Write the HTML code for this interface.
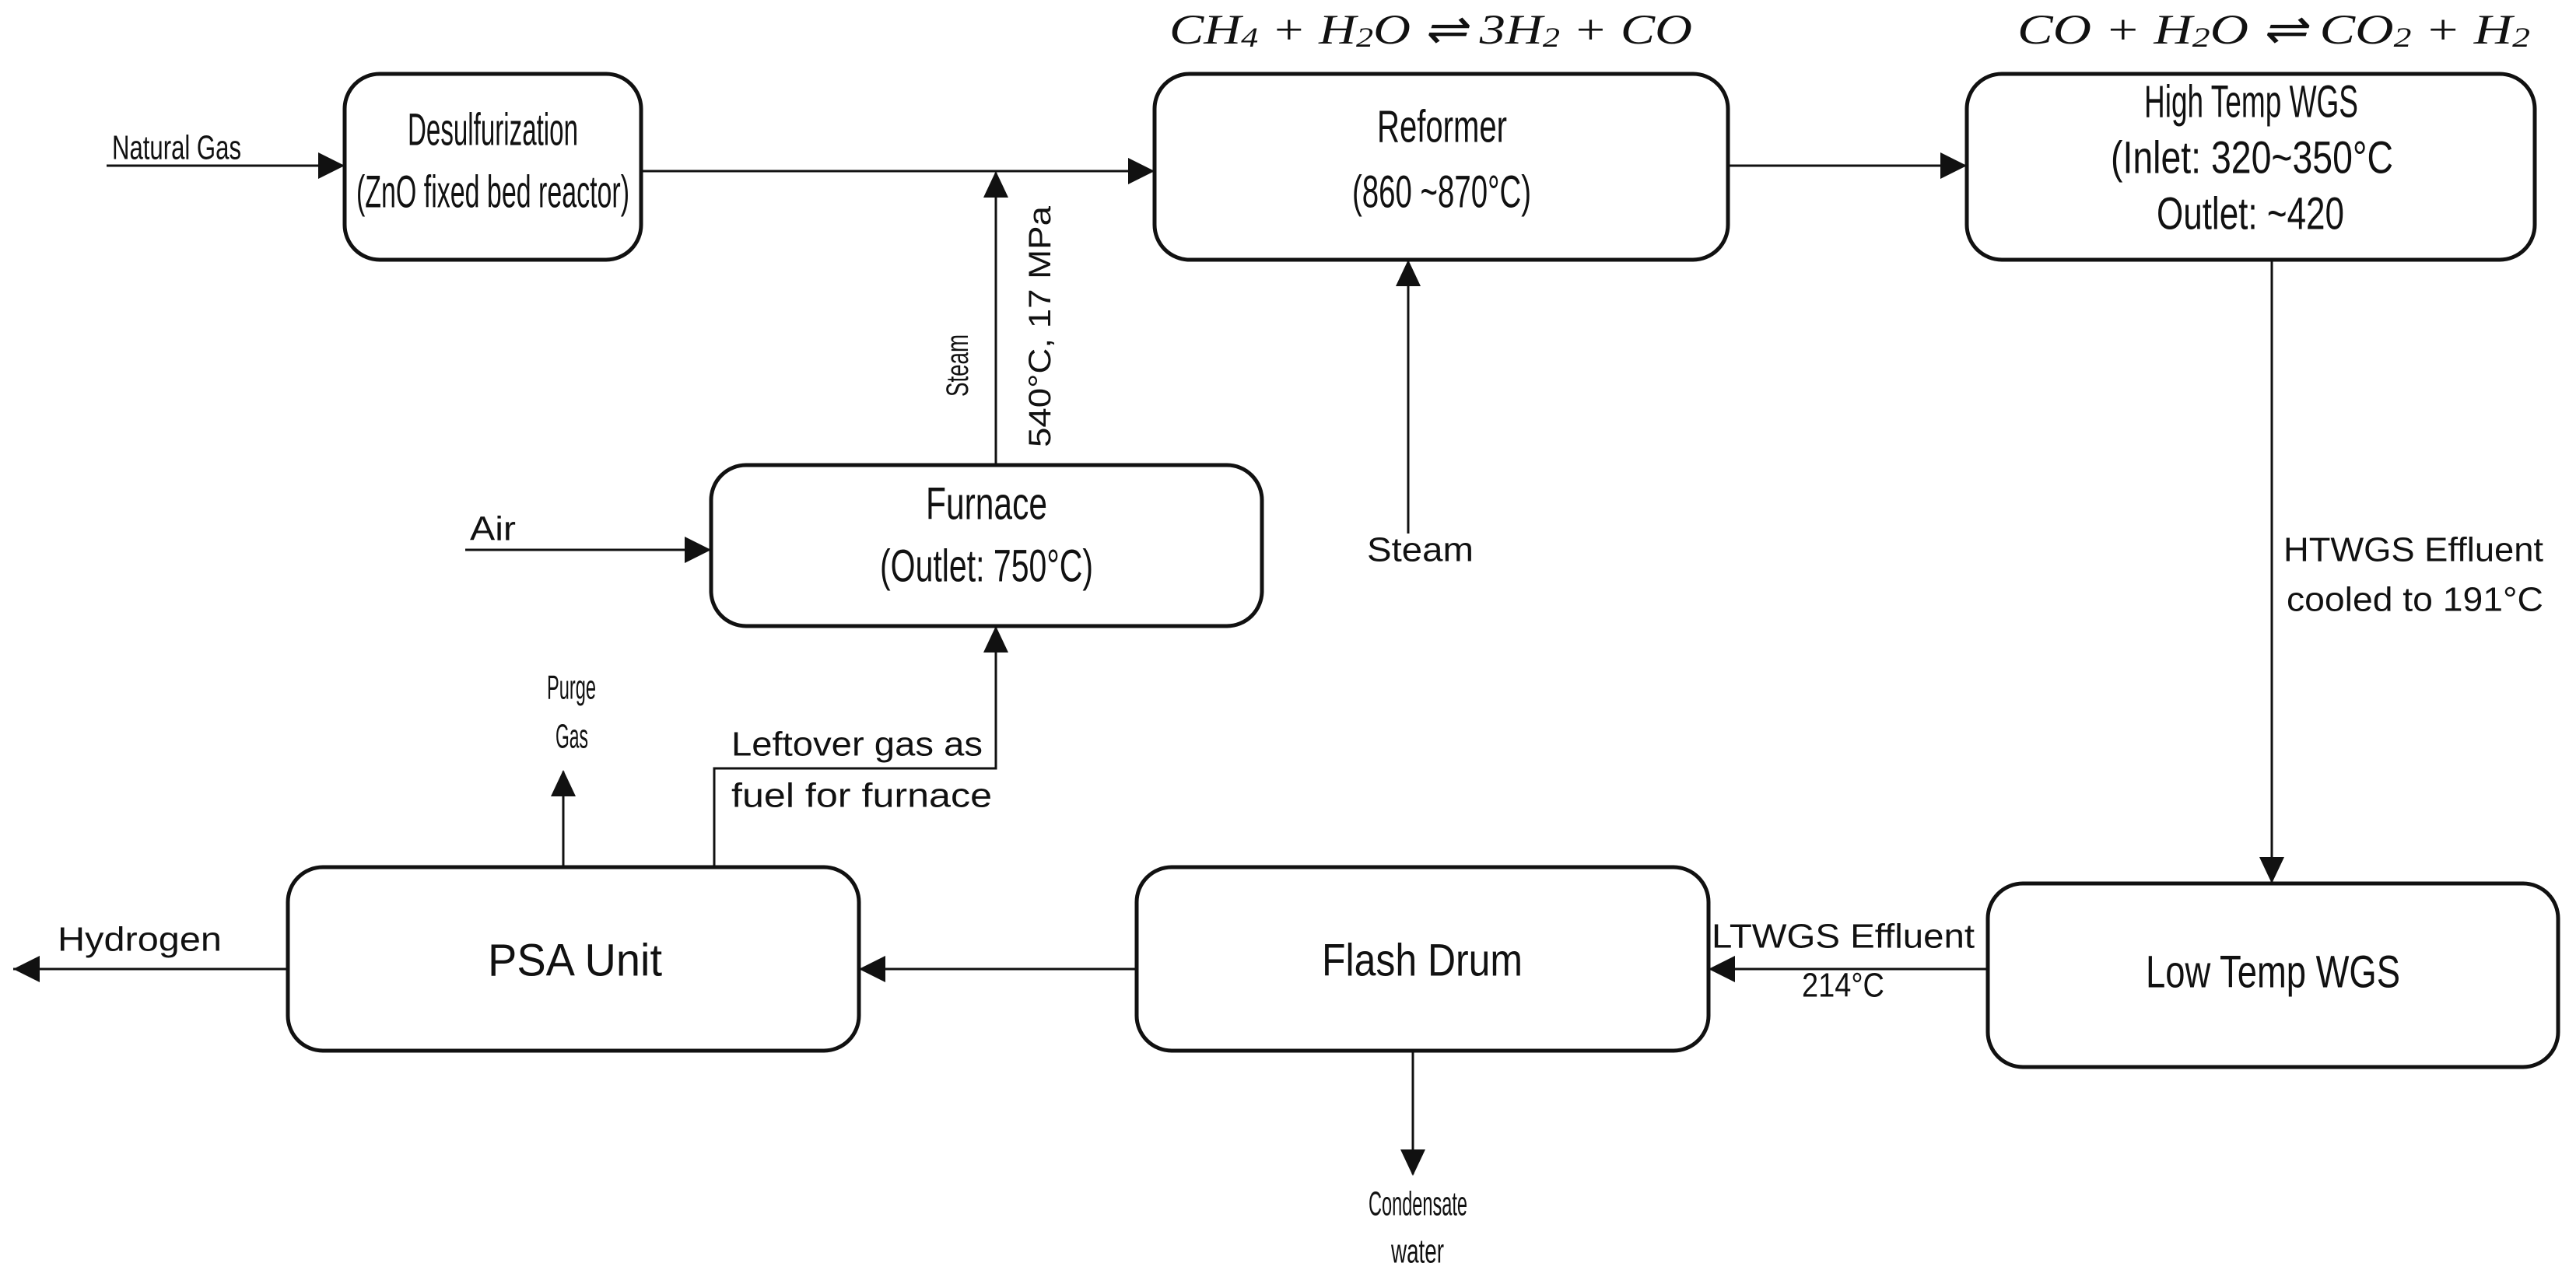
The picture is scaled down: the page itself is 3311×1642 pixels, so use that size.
<!DOCTYPE html>
<html><head><meta charset="utf-8"><style>
html,body{margin:0;padding:0;background:#fff;}
svg{display:block;}
text{font-family:"Liberation Sans",sans-serif;fill:#111;dominant-baseline:central;}
.b{font-size:58px;}
.l{font-size:44px;}
.eq{font-family:"Liberation Serif",serif;font-style:italic;font-size:54px;}
</style></head><body>
<svg width="3311" height="1642" viewBox="0 0 3311 1642" xmlns="http://www.w3.org/2000/svg">
<g fill="none" stroke="#111" stroke-width="5">
<rect x="443" y="95" width="381" height="239" rx="45"/>
<rect x="1484" y="95" width="737" height="239" rx="45"/>
<rect x="2528" y="95" width="730" height="239" rx="45"/>
<rect x="914" y="598" width="708" height="207" rx="45"/>
<rect x="2555" y="1136" width="733" height="236" rx="45"/>
<rect x="1461" y="1115" width="735" height="236" rx="45"/>
<rect x="370" y="1115" width="734" height="236" rx="45"/>
</g>
<g fill="none" stroke="#111" stroke-width="3">
<line x1="137" y1="213" x2="443" y2="213"/>
<line x1="824" y1="220" x2="1484" y2="220"/>
<line x1="1280" y1="598" x2="1280" y2="222"/>
<line x1="2221" y1="213" x2="2528" y2="213"/>
<line x1="598" y1="707" x2="914" y2="707"/>
<line x1="1810" y1="686" x2="1810" y2="336"/>
<line x1="2920" y1="334" x2="2920" y2="1136"/>
<line x1="2555" y1="1246" x2="2196" y2="1246"/>
<line x1="1816" y1="1351" x2="1816" y2="1510"/>
<line x1="1461" y1="1246" x2="1104" y2="1246"/>
<line x1="370" y1="1246" x2="17" y2="1246"/>
<line x1="724" y1="1115" x2="724" y2="992"/>
<polyline points="918,1115 918,988 1280,988 1280,805"/>
</g>
<g fill="#111">
<path d="M443,213 l-34,-17 v34 z"/>
<path d="M1484,220 l-34,-17 v34 z"/>
<path d="M1280,220 l-16,34 h32 z"/>
<path d="M2528,213 l-34,-17 v34 z"/>
<path d="M914,707 l-34,-17 v34 z"/>
<path d="M1810,334 l-16,34 h32 z"/>
<path d="M2920,1136 l-16,-34 h32 z"/>
<path d="M2196,1246 l34,-17 v34 z"/>
<path d="M1816,1512 l-16,-34 h32 z"/>
<path d="M1104,1246 l34,-17 v34 z"/>
<path d="M17,1246 l34,-17 v34 z"/>
<path d="M724,990 l-16,34 h32 z"/>
<path d="M1280,805 l-16,34 h32 z"/>
</g>
<text class="eq" x="1503" y="38" textLength="672" lengthAdjust="spacingAndGlyphs">CH<tspan font-size="36" dy="10">4</tspan><tspan dy="-10"> + H</tspan><tspan font-size="36" dy="10">2</tspan><tspan dy="-10">O ⇌ 3H</tspan><tspan font-size="36" dy="10">2</tspan><tspan dy="-10"> + CO</tspan></text>
<text class="eq" x="2593" y="38" textLength="659" lengthAdjust="spacingAndGlyphs">CO + H<tspan font-size="36" dy="10">2</tspan><tspan dy="-10">O ⇌ CO</tspan><tspan font-size="36" dy="10">2</tspan><tspan dy="-10"> + H</tspan><tspan font-size="36" dy="10">2</tspan></text>
<text class="l" x="144" y="190" textLength="166" lengthAdjust="spacingAndGlyphs">Natural Gas</text>
<text class="b" x="524" y="167" textLength="219" lengthAdjust="spacingAndGlyphs">Desulfurization</text>
<text class="b" x="458" y="247" textLength="351" lengthAdjust="spacingAndGlyphs">(ZnO fixed bed reactor)</text>
<text class="b" x="1770" y="163" textLength="167" lengthAdjust="spacingAndGlyphs">Reformer</text>
<text class="b" x="1738" y="247" textLength="230" lengthAdjust="spacingAndGlyphs">(860 ~870°C)</text>
<text class="b" x="2756" y="131" textLength="275" lengthAdjust="spacingAndGlyphs">High Temp WGS</text>
<text class="b" x="2713" y="203" textLength="363" lengthAdjust="spacingAndGlyphs">(Inlet: 320~350°C</text>
<text class="b" x="2772" y="275" textLength="241" lengthAdjust="spacingAndGlyphs">Outlet: ~420</text>
<text transform="translate(1231,470) rotate(-90)" x="-40" y="0" textLength="80" lengthAdjust="spacingAndGlyphs" font-size="40">Steam</text>
<text transform="translate(1337,420) rotate(-90)" x="-155" y="0" textLength="310" lengthAdjust="spacingAndGlyphs" font-size="40">540°C, 17 MPa</text>
<text class="b" x="1190" y="648" textLength="156" lengthAdjust="spacingAndGlyphs">Furnace</text>
<text class="b" x="1131" y="728" textLength="274" lengthAdjust="spacingAndGlyphs">(Outlet: 750°C)</text>
<text class="l" x="604" y="680" textLength="59" lengthAdjust="spacingAndGlyphs">Air</text>
<text class="l" x="1757" y="707" textLength="137" lengthAdjust="spacingAndGlyphs">Steam</text>
<text class="l" x="2935" y="707" textLength="334" lengthAdjust="spacingAndGlyphs">HTWGS Effluent</text>
<text class="l" x="2939" y="771" textLength="330" lengthAdjust="spacingAndGlyphs">cooled to 191°C</text>
<text class="b" x="2758" y="1250" textLength="327" lengthAdjust="spacingAndGlyphs">Low Temp WGS</text>
<text class="l" x="2200" y="1204" textLength="338" lengthAdjust="spacingAndGlyphs">LTWGS Effluent</text>
<text class="l" x="2316" y="1267" textLength="106" lengthAdjust="spacingAndGlyphs">214°C</text>
<text class="b" x="1699" y="1235" textLength="258" lengthAdjust="spacingAndGlyphs">Flash Drum</text>
<text class="l" x="1759" y="1548" textLength="127" lengthAdjust="spacingAndGlyphs">Condensate</text>
<text class="l" x="1788" y="1609" textLength="68" lengthAdjust="spacingAndGlyphs">water</text>
<text class="b" x="627" y="1235" textLength="224" lengthAdjust="spacingAndGlyphs">PSA Unit</text>
<text class="l" x="74" y="1208" textLength="211" lengthAdjust="spacingAndGlyphs">Hydrogen</text>
<text class="l" x="703" y="884" textLength="63" lengthAdjust="spacingAndGlyphs">Purge</text>
<text class="l" x="714" y="947" textLength="42" lengthAdjust="spacingAndGlyphs">Gas</text>
<text class="l" x="940" y="957" textLength="323" lengthAdjust="spacingAndGlyphs">Leftover gas as</text>
<text class="l" x="940" y="1023" textLength="335" lengthAdjust="spacingAndGlyphs">fuel for furnace</text>
</svg>
</body></html>
